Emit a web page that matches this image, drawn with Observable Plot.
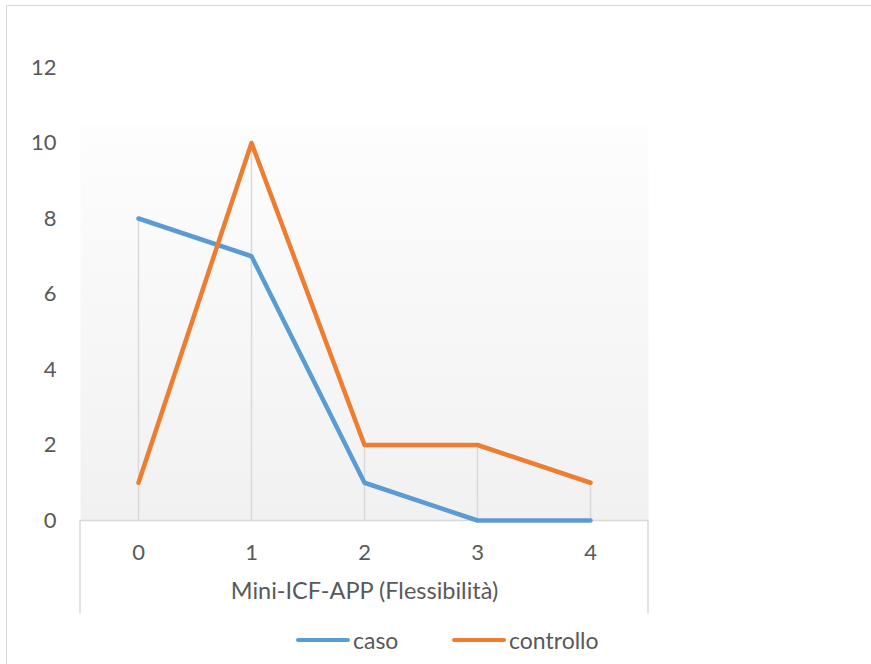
<!DOCTYPE html>
<html>
<head>
<meta charset="utf-8">
<script src="https://cdn.jsdelivr.net/npm/d3@7"></script>
<script src="https://cdn.jsdelivr.net/npm/@observablehq/plot@0.6"></script>
<style>
  html, body { margin: 0; padding: 0; background: #ffffff; overflow: hidden; }
  #wrap { position: relative; width: 871px; height: 664px; }
  #border { position: absolute; left: 6px; top: 5px; width: 1000px; height: 1000px; border: 1.5px solid #d9d9d9; box-sizing: border-box; }
  #chart { position: absolute; left: 0; top: 0; }
  #legend { position: absolute; top: 626px; left: 0; width: 871px; height: 30px; font-family: Lato, sans-serif; font-size: 23px; color: #595959; }
  .item { position: absolute; top: 0; display: flex; align-items: center; height: 28px; }
  .swatch { display: inline-block; width: 54px; height: 4.5px; border-radius: 3px; margin-right: 3px; }
</style>
</head>
<body>
<div id="wrap">
  <div id="border"></div>
  <div id="chart"></div>
  <div id="legend"></div>
</div>
<script>
// ---- data ----
const categories = ["0", "1", "2", "3", "4"];
const caso = [8, 7, 1, 0, 0];
const controllo = [1, 10, 2, 2, 1];
const yTicks = [0, 2, 4, 6, 8, 10, 12];
const seriesNames = ["caso", "controllo"];
const seriesColors = ["#5b9bd5", "#ed7d31"];
const xTitle = "Mini-ICF-APP (Flessibilità)";

// ---- tables built from the arrays ----
const rows = categories.flatMap((c, i) => [
  { cat: c, series: seriesNames[0], value: caso[i] },
  { cat: c, series: seriesNames[1], value: controllo[i] }
]);
const drops = categories.map((c, i) => ({ cat: c, top: Math.max(caso[i], controllo[i]) }));

const textColor = "#595959";
const gridColor = "#d9d9d9";

const plot = Plot.plot({
  width: 871,
  height: 664,
  marginLeft: 80,
  marginRight: 223,
  marginTop: 67,
  marginBottom: 144,
  style: { fontFamily: "Lato, sans-serif", fontSize: "22px", color: textColor, background: "transparent", overflow: "visible" },
  x: { type: "point", domain: categories, padding: 0.5, tickSize: 0, tickPadding: 24, label: null },
  y: { domain: [0, 12], ticks: yTicks, tickSize: 0, tickPadding: 24, label: null },
  color: { domain: seriesNames, range: seriesColors },
  marks: [
    Plot.frame({ fill: "url(#plotbg)", stroke: "none" }),
    Plot.ruleX(drops, { x: "cat", y1: 0, y2: "top", stroke: gridColor, strokeWidth: 1.5 }),
    Plot.ruleY([0], { stroke: gridColor, strokeWidth: 1.5 }),
    Plot.line(rows, { x: "cat", y: "value", z: "series", stroke: "series", strokeWidth: 4.5, strokeLinecap: "round", strokeLinejoin: "round" }),
    Plot.text([xTitle], { frameAnchor: "bottom", dy: 78, fill: textColor, fontSize: 23.5 })
  ]
});

// gradient definition for plot-area fill
const ns = "http://www.w3.org/2000/svg";
const defs = document.createElementNS(ns, "defs");
defs.innerHTML = `<linearGradient id="plotbg" x1="0" y1="0" x2="0" y2="1">
  <stop offset="0" stop-color="#ffffff"/>
  <stop offset="0.13" stop-color="#ffffff"/>
  <stop offset="0.132" stop-color="#fdfdfd"/>
  <stop offset="1" stop-color="#f1f1f1"/>
</linearGradient>`;
plot.insertBefore(defs, plot.firstChild);

// side borders of the category-axis box, from scale geometry
const xr = plot.scale("x").range;
const y0 = plot.scale("y").apply(0);
for (const xv of xr) {
  const l = document.createElementNS(ns, "line");
  l.setAttribute("x1", xv); l.setAttribute("x2", xv);
  l.setAttribute("y1", y0); l.setAttribute("y2", y0 + 93);
  l.setAttribute("stroke", gridColor); l.setAttribute("stroke-width", 1.5);
  plot.appendChild(l);
}

document.getElementById("chart").appendChild(plot);

// legend
const legend = document.getElementById("legend");
const legendLefts = [296, 452];
seriesNames.forEach((name, i) => {
  const item = document.createElement("div");
  item.className = "item";
  item.style.left = legendLefts[i] + "px";
  const sw = document.createElement("span");
  sw.className = "swatch";
  sw.style.background = seriesColors[i];
  const tx = document.createElement("span");
  tx.textContent = name;
  item.appendChild(sw); item.appendChild(tx);
  legend.appendChild(item);
});
</script>
</body>
</html>
